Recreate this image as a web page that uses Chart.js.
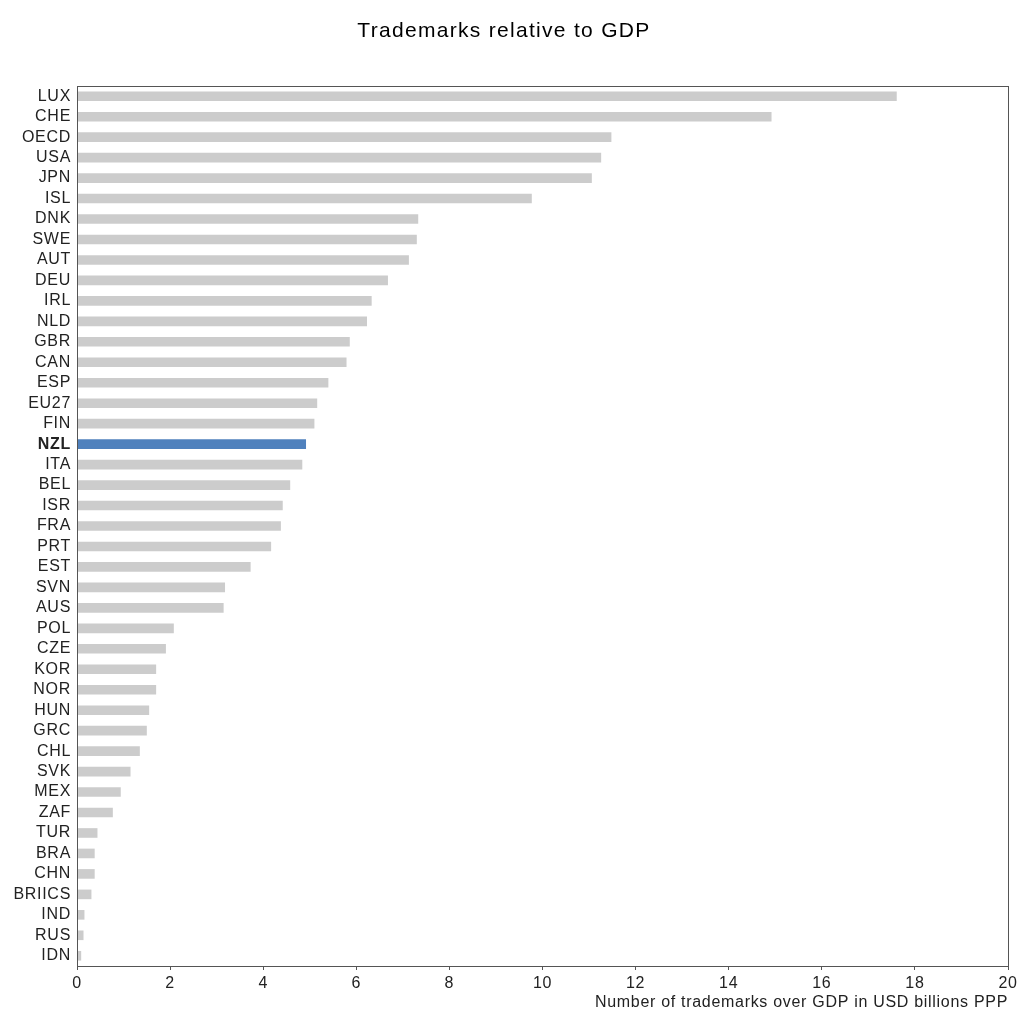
<!DOCTYPE html>
<html>
<head>
<meta charset="utf-8">
<script src="https://cdn.jsdelivr.net/npm/chart.js@4"></script>
<style>
  body { margin: 0; background: #fff; }
  #wrap { width: 1018px; height: 1012px; position: relative; }
</style>
</head>
<body>
<div id="wrap"><canvas id="chart"></canvas></div>
<script>
// Trademarks relative to GDP — horizontal bars, NZL highlighted

const countries = ['LUX', 'CHE', 'OECD', 'USA', 'JPN', 'ISL', 'DNK', 'SWE', 'AUT', 'DEU',
  'IRL', 'NLD', 'GBR', 'CAN', 'ESP', 'EU27', 'FIN', 'NZL', 'ITA', 'BEL', 'ISR', 'FRA',
  'PRT', 'EST', 'SVN', 'AUS', 'POL', 'CZE', 'KOR', 'NOR', 'HUN', 'GRC', 'CHL', 'SVK',
  'MEX', 'ZAF', 'TUR', 'BRA', 'CHN', 'BRIICS', 'IND', 'RUS', 'IDN'];

const trademarks = [17.61, 14.92, 11.48, 11.26, 11.06, 9.77, 7.33, 7.30, 7.13, 6.68,
  6.33, 6.23, 5.86, 5.79, 5.40, 5.16, 5.10, 4.92, 4.84, 4.58, 4.42, 4.38,
  4.17, 3.73, 3.18, 3.15, 2.08, 1.91, 1.70, 1.70, 1.55, 1.50, 1.35, 1.15,
  0.94, 0.77, 0.44, 0.38, 0.38, 0.31, 0.16, 0.14, 0.09];

const xTicks = [0, 2, 4, 6, 8, 10, 12, 14, 16, 18, 20];

const HIGHLIGHT = 'NZL';
const FONT = '"Liberation Sans", Arial, sans-serif';

// ─── Plugins ────────────────────────────────────────────────────────────────

// etwas breitere Schrift wie im Original
const spacing = {
  id: 'spacing',
  beforeDraw(chart) { chart.ctx.letterSpacing = '0.7px'; },
  afterDraw(chart) { chart.ctx.letterSpacing = '0px'; },
};

// Rahmen um die Plotfläche + Titel
const frame = {
  id: 'frame',
  afterDraw(chart) {
    const { ctx, chartArea: a } = chart;
    ctx.save();
    ctx.strokeStyle = '#555';
    ctx.lineWidth = 1;
    ctx.strokeRect(Math.round(a.left) + 0.5, Math.round(a.top) + 0.5,
      Math.round(a.right - a.left), Math.round(a.bottom - a.top));
    ctx.fillStyle = '#000';
    ctx.font = `21px ${FONT}`;
    ctx.letterSpacing = '1.3px';
    ctx.textAlign = 'center';
    ctx.textBaseline = 'alphabetic';
    ctx.fillText('Trademarks relative to GDP', 504, 37);
    ctx.restore();
  }
};

// ─── Chart ──────────────────────────────────────────────────────────────────

new Chart(document.getElementById('chart'), {
  type: 'bar',
  data: {
    labels: countries,
    datasets: [{
      data: trademarks,
      backgroundColor: countries.map(c => c === HIGHLIGHT ? '#4f81bd' : '#cccccc'),
      borderWidth: 0,
      barPercentage: 0.47,
      categoryPercentage: 1,
    }],
  },
  options: {
    indexAxis: 'y',
    responsive: true,
    maintainAspectRatio: false,
    animation: false,
    layout: { padding: { top: 86, right: 10, left: 0, bottom: 0 } },
    plugins: { legend: { display: false }, tooltip: { enabled: false } },
    scales: {
      x: {
        min: 0, max: 20,
        afterBuildTicks: s => { s.ticks = xTicks.map(v => ({ value: v })); },
        afterFit: s => { s.height = 46; s.paddingLeft = 0; s.paddingRight = 0; },
        grid: { drawOnChartArea: false, tickLength: 4, color: '#555' },
        border: { color: '#555' },
        ticks: { color: '#222', font: { family: FONT, size: 16 }, padding: 4, maxRotation: 0 },
        title: {
          display: true, align: 'end', text: 'Number of trademarks over GDP in USD billions PPP',
          color: '#222', font: { family: FONT, size: 16 }, padding: { top: 0, bottom: 0 },
        },
      },
      y: {
        afterFit: s => { s.width = 77; s.paddingTop = 0; s.paddingBottom = 0; },
        grid: { display: false, drawTicks: false },
        border: { color: '#555' },
        ticks: {
          color: '#222', padding: 6, autoSkip: false,
          font: c => ({ family: FONT, size: 16, weight: countries[c.index] === HIGHLIGHT ? 'bold' : 'normal' }),
        },
      },
    },
  },
  plugins: [spacing, frame],
});
</script>
</body>
</html>
